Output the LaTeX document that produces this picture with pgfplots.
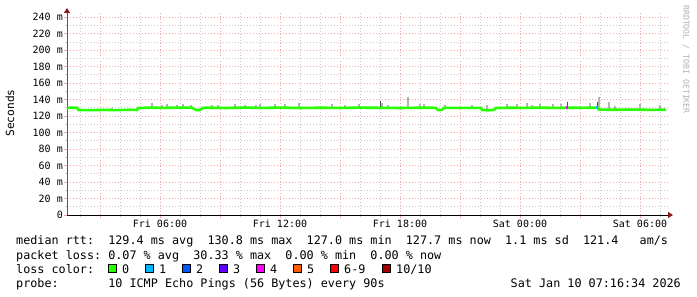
\documentclass[border=0pt]{standalone}
\usepackage{pgfplots}
\pgfplotsset{compat=1.18}
\usepackage{pgfplotstable}
\usepackage{fontspec}
\setmainfont{DejaVu Sans Mono}
\usetikzlibrary{arrows.meta}
\frenchspacing
\definecolor{lgreen}{HTML}{26FF00}
\definecolor{l1}{HTML}{00B8FF}
\definecolor{l2}{HTML}{0059FF}
\definecolor{l3}{HTML}{5E00FF}
\definecolor{l4}{HTML}{FF00FF}
\definecolor{l5}{HTML}{FF5E00}
\definecolor{l6}{HTML}{FF0000}
\definecolor{l10}{HTML}{A10000}
\definecolor{smokel}{HTML}{B4B4B4}
\definecolor{smoked}{HTML}{505050}
\definecolor{mgrid}{HTML}{F0A8A8}
\definecolor{ngrid}{HTML}{C8C8C8}
\definecolor{arrowred}{HTML}{8B1A1A}

\pgfplotstableread{
x y
1.35 130.0
1.85 130.1
1.92 127.4
2.5 127.1
3.2 127.5
3.8 127.2
4.4 127.6
4.85 127.4
4.92 129.8
5.5 130.2
6.2 129.9
6.8 130.3
7.6 130.0
7.8 127.4
8.0 127.3
8.15 130.0
8.5 130.1
9.3 129.8
10.1 130.3
11.0 129.9
12.0 130.2
13.0 129.8
14.0 130.1
15.0 129.9
16.0 130.2
17.0 130.0
18.0 129.8
19.0 130.1
19.8 130.0
19.9 127.3
20.1 127.5
20.2 130.0
20.5 130.0
21.3 129.9
22.05 130.0
22.1 127.3
22.4 127.0
22.7 127.5
22.8 129.8
23.5 130.1
24.3 129.9
25.0 130.2
25.8 129.9
26.5 130.1
27.2 130.0
27.88 130.2
27.95 127.9
28.5 127.6
29.2 127.8
30.0 127.7
30.6 127.5
31.3 127.7
}\median

\pgfplotstableread{
x b e
3.6 127.5 2.5
5.6 130 6.1
6.1 130 3.7
6.35 130 4.1
6.85 130 3.3
7.15 130 4.5
7.55 130 3.7
8.6 130 3.3
8.9 130 3.3
9.75 130 4.5
10.25 130 3.3
10.8 130 3.3
11.0 130 4.1
11.75 130 4.5
12.25 130 4.1
12.95 130 5.4
14.6 130 4.1
15.25 130 3.3
15.95 130 4.5
17.1 130 6.1
17.4 130 3.3
18.4 130 13.4
19.0 130 4.5
19.2 130 4.1
20.25 130 3.3
21.6 130 3.7
22.35 127.3 6.0
23.35 130 4.1
23.85 130 4.5
24.35 130 6.1
24.6 130 3.7
25.0 130 4.1
25.65 130 4.5
26.05 130 4.5
27.5 130 5.4
27.95 128 15.4
28.45 128 9.0
28.75 128 4.5
30.0 128 6.1
31.0 128 5.7
}\smokelight

\pgfplotstableread{
x b e
17.0 130 8.2
26.35 130 7.0
27.85 130 7.0
}\smokedark

\newcommand{\lf}{\fontsize{11.77bp}{14bp}\selectfont}
\begin{document}
\begin{tikzpicture}
\path[use as bounding box] (0,0) rectangle (697bp,297bp);
\begin{axis}[
  at={(67bp,82bp)}, anchor=south west,
  scale only axis, width=601bp, height=202bp,
  xmin=1.35, xmax=31.4, ymin=0, ymax=245,
  axis lines=left,
  x axis line style={black, line width=1bp, shorten >=-5bp, -{Triangle[length=5bp,width=6bp,color=arrowred]}},
  y axis line style={black!65, line width=1bp, shorten >=-5bp, -{Triangle[length=5bp,width=6bp,color=arrowred]}},
  xtick={3,6,...,30},
  xticklabels={,Fri 06:00,,Fri 12:00,,Fri 18:00,,Sat 00:00,,Sat 06:00},
  minor xtick={2,...,31},
  ytick={0,20,...,240},
  yticklabels={0,20 m,40 m,60 m,80 m,100 m,120 m,140 m,160 m,180 m,200 m,220 m,240 m},
  minor ytick={10,30,...,230},
  grid=both,
  major grid style={mgrid, dash pattern=on 1bp off 2bp, line width=0.7bp},
  minor grid style={ngrid, dash pattern=on 1bp off 2bp, line width=0.7bp},
  tick align=outside,
  major tick length=3bp, minor tick length=2bp,
  major tick style={mgrid, line width=0.7bp},
  minor tick style={ngrid, line width=0.7bp},
  ticklabel style={font=\fontsize{10bp}{12bp}\selectfont, text=black},
  xticklabel style={inner sep=0pt, yshift=-2bp},
  yticklabel style={inner sep=0pt, xshift=-1bp},
  clip=false,
]
\addplot[draw=none, mark=none, forget plot,
  error bars/.cd, y dir=plus, y explicit, error mark=none,
  error bar style={color=smokel, line width=1.5bp}]
  table[x=x, y=b, y error=e] {\smokelight};
\addplot[draw=none, mark=none, forget plot,
  error bars/.cd, y dir=plus, y explicit, error mark=none,
  error bar style={color=smoked, line width=1bp}]
  table[x=x, y=b, y error=e] {\smokedark};
\addplot[lgreen, line width=2.6bp, mark=none] table[x=x, y=y] {\median};
\addplot[l4, line width=2.6bp, mark=none] coordinates {(26.32,130.05) (26.38,130.05)};
\addplot[l1, line width=2.6bp, mark=none] coordinates {(27.82,130.15) (27.88,130.15)};
\end{axis}

\node[rotate=90, font=\fontsize{11.2bp}{13bp}\selectfont] at (10bp,184bp) {Seconds};
\node[rotate=-90, anchor=west, inner sep=0pt, text=black!30, font=\fontsize{8.2bp}{10bp}\selectfont] at (686bp,292bp) {RRDTOOL / TOBI OETIKER};

\node[anchor=base west, inner sep=0pt, font=\lf] at (16bp,52bp) {median rtt:~~129.4 ms avg~~130.8 ms max~~127.0 ms min~~127.7 ms now~~1.1 ms sd~~121.4~~~am/s};
\node[anchor=base west, inner sep=0pt, font=\lf] at (16bp,38bp) {packet loss: 0.07 \% avg~~30.33 \% max~~0.00 \% min~~0.00 \% now};
\node[anchor=base west, inner sep=0pt, font=\lf] at (16bp,24bp) {loss color:};
\foreach \xx/\cc/\tt in {108/lgreen/0, 145/l1/1, 182/l2/2, 219/l3/3, 256/l4/4, 293/l5/5, 330/l6/6-9, 382/l10/{10/10}}{
  \filldraw[fill=\cc, draw=black, line width=0.6bp] (\xx bp,24.5bp) rectangle ++(8.5bp,8.5bp);
  \node[anchor=base west, inner sep=0pt, font=\lf] at (\xx bp+14bp,24bp) {\tt};
}
\node[anchor=base west, inner sep=0pt, font=\lf] at (16bp,10bp) {probe:~~~~~~~10 ICMP Echo Pings (56 Bytes) every 90s};
\node[anchor=base east, inner sep=0pt, font=\lf] at (681bp,10bp) {Sat Jan 10 07:16:34 2026};
\end{tikzpicture}
\end{document}
